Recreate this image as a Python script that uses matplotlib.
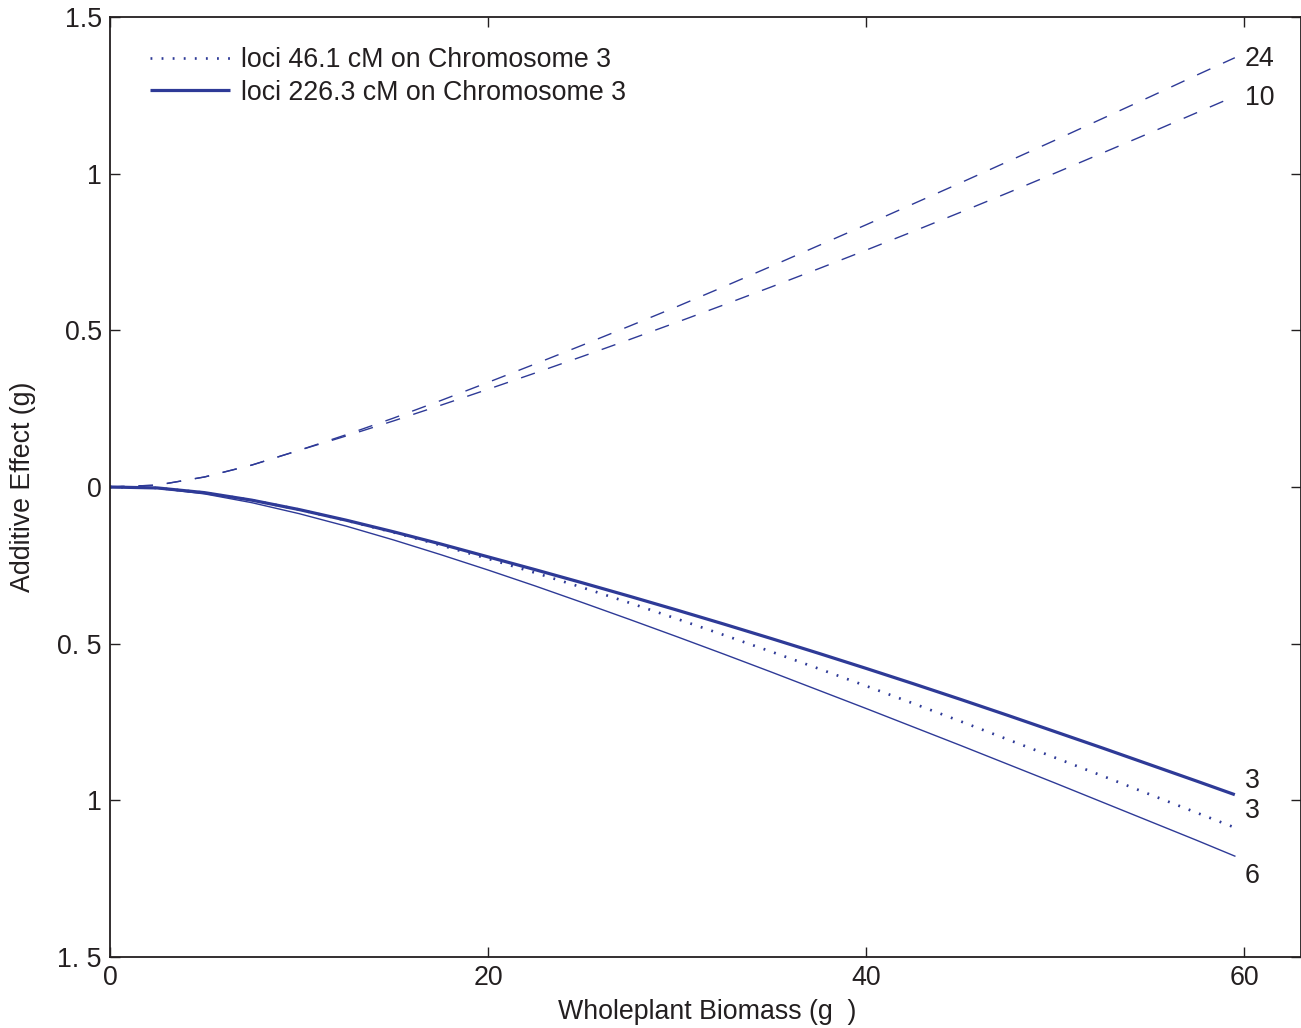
import matplotlib
matplotlib.use("Agg")
import matplotlib.pyplot as plt

biomass = [0, 2.5, 5, 7.5, 10, 12.5, 15, 17.5, 20, 22.5, 25, 27.5, 30, 32.5, 35,
           37.5, 40, 42.5, 45, 47.5, 50, 52.5, 55, 57.5, 59.5]

dash_24 = [0.0, 0.006, 0.032, 0.070, 0.117, 0.167, 0.220, 0.276, 0.334, 0.393, 0.453,
           0.514, 0.576, 0.640, 0.705, 0.771, 0.837, 0.904, 0.971, 1.039, 1.107, 1.176,
           1.245, 1.315, 1.370]
dash_10 = [0.0, 0.006, 0.032, 0.070, 0.117, 0.163, 0.211, 0.261, 0.312, 0.364, 0.417,
           0.471, 0.526, 0.582, 0.639, 0.697, 0.756, 0.816, 0.877, 0.939, 1.002, 1.066,
           1.130, 1.195, 1.247]
thick_3 = [0.0, -0.003, -0.018, -0.042, -0.072, -0.106, -0.143, -0.182, -0.223, -0.264,
           -0.306, -0.349, -0.393, -0.438, -0.484, -0.531, -0.579, -0.628, -0.678, -0.729,
           -0.781, -0.833, -0.886, -0.939, -0.982]
dotted_3 = [0.0, -0.003, -0.018, -0.042, -0.072, -0.107, -0.145, -0.186, -0.229, -0.274,
            -0.321, -0.370, -0.421, -0.473, -0.526, -0.580, -0.635, -0.691, -0.748, -0.806,
            -0.864, -0.922, -0.981, -1.040, -1.087]
thin_6 = [0.0, -0.004, -0.022, -0.050, -0.085, -0.125, -0.169, -0.216, -0.265, -0.316,
          -0.369, -0.423, -0.478, -0.534, -0.591, -0.649, -0.707, -0.766, -0.825, -0.885,
          -0.945, -1.006, -1.067, -1.128, -1.178]

xticks = [0, 20, 40, 60]
xtick_labels = ["0", "20", "40", "60"]
yticks = [1.5, 1, 0.5, 0, -0.5, -1, -1.5]
ytick_labels = ["1.5", "1", "0.5", "0", "0. 5", "1", "1. 5"]

legend_labels = ["loci 46.1 cM on Chromosome 3", "loci 226.3 cM on Chromosome 3"]
end_labels = ["24", "10", "3", "3", "6"]

plt.rcParams['font.family'] = ['Liberation Sans', 'DejaVu Sans']
BLUE = '#2e3a97'
TXT = '#231f20'
FS = 19.3

fig = plt.figure(figsize=(13.01, 10.28), dpi=100)
ax = fig.add_axes([110 / 1301, 1 - 957 / 1028, 1191 / 1301, 940 / 1028])

ax.plot(biomass, dash_24, color=BLUE, lw=1.0, dashes=(10.5, 10))
ax.plot(biomass, dash_10, color=BLUE, lw=1.0, dashes=(10.5, 10))
l_dot, = ax.plot(biomass, dotted_3, color=BLUE, lw=1.9, dashes=(0.7, 3.5),
                 dash_capstyle='butt')
l_thick, = ax.plot(biomass, thick_3, color=BLUE, lw=2.3, solid_capstyle='butt')
ax.plot(biomass, thin_6, color=BLUE, lw=1.0)

ends = [dash_24[-1], dash_10[-1], thick_3[-1], dotted_3[-1], thin_6[-1]]
offsets = [-1, -1, 10, 12, -14]
for lab, yv, off in zip(end_labels, ends, offsets):
    ax.annotate(lab, xy=(biomass[-1], yv), xytext=(7, off), textcoords='offset points',
                ha='left', va='center', fontsize=FS, color=TXT)

ax.set_xlim(0, 63)
ax.set_ylim(-1.5, 1.5)
ax.set_xticks(xticks)
ax.set_xticklabels(xtick_labels)
ax.set_yticks(yticks)
ax.set_yticklabels(ytick_labels)
ax.tick_params(direction='in', length=7, width=1, top=True, right=True,
               labelsize=FS, colors=TXT, pad=6)
for s in ax.spines.values():
    s.set_linewidth(1.3)
    s.set_color(TXT)

ax.set_xlabel("Wholeplant Biomass (g  )", fontsize=FS, color=TXT, va='center')
ax.set_ylabel("Additive Effect (g)", fontsize=FS, color=TXT, va='center')
ax.xaxis.set_label_coords((707 - 110) / 1191, (957 - 1012) / 940)
ax.yaxis.set_label_coords((23 - 110) / 1191, (957 - 487) / 940)

leg = ax.legend([l_dot, l_thick], legend_labels, loc='upper left', frameon=False,
                fontsize=FS, handlelength=3.0, handletextpad=0.4, labelspacing=0.25,
                borderaxespad=0.0, borderpad=0.0,
                bbox_to_anchor=((150 - 110) / 1191, (957 - 47) / 940))
for t in leg.get_texts():
    t.set_color(TXT)

fig.savefig("out.png", dpi=100)
